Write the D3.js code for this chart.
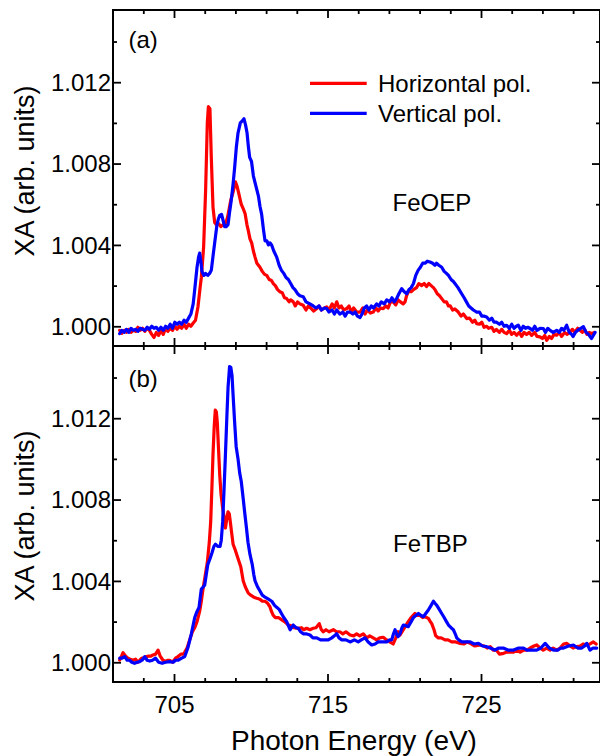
<!DOCTYPE html>
<html><head><meta charset="utf-8">
<script src="https://cdn.jsdelivr.net/npm/d3@7"></script>
<style>
body{margin:0;background:#fff;}
text{font-family:"Liberation Sans",Arial,sans-serif;fill:#000;}
</style></head>
<body><svg id="chart" width="600" height="756"></svg>
<script>
// ---------- data ----------
const xMajorTicks = [705, 715, 725];
const xMinorTicks = [703, 707, 709, 711, 713, 717, 719, 721, 723, 727, 729, 731];
const yMajorTicks = [1.000, 1.004, 1.008, 1.012];
const yMinorTicks = [1.002, 1.006, 1.010, 1.014];
const seriesNames = ["Horizontal pol.", "Vertical pol."];
const panelLabels = ["(a)", "(b)"];
const sampleNames = ["FeOEP", "FeTBP"];

const feoepHorizontal = [[701.46,0.9998],[701.6,0.99965],[701.75,0.9998],[701.9,0.9997],[702.05,0.99985],[702.2,0.9997],[702.35,0.9998],[702.5,0.99975],[702.65,0.99995],[702.8,0.9998],[702.95,0.9999],[703.1,0.99975],[703.25,0.9999],[703.4,0.9998],[703.55,0.9996],[703.7,0.99945],[703.85,0.9997],[704.0,0.99955],[704.15,0.9998],[704.3,0.9996],[704.45,0.9999],[704.6,0.99975],[704.75,0.9999],[704.9,0.9998],[705.05,1.0000],[705.2,0.99985],[705.35,1.0000],[705.5,0.9999],[705.65,1.0001],[705.8,0.9999],[705.95,1.0001],[706.1,1.0000],[706.24,1.00015],[706.4,1.0003],[706.56,1.00095],[706.7,1.0019],[706.78,1.0024],[706.93,1.0039],[707.06,1.0067],[707.17,1.0100],[707.24,1.0108],[707.34,1.0107],[707.43,1.0083],[707.54,1.00586],[707.65,1.0051],[707.75,1.0050],[707.9,1.00505],[708.05,1.0049],[708.2,1.0050],[708.35,1.0050],[708.5,1.0054],[708.7,1.0062],[708.85,1.0066],[709.0,1.0071],[709.1,1.0069],[709.2,1.0066],[709.38,1.0060],[709.5,1.0058],[709.63,1.00554],[709.75,1.0050],[709.84,1.0047],[709.95,1.0043],[710.06,1.0041],[710.17,1.0037],[710.28,1.0034],[710.4,1.0031],[710.5,1.0030],[710.6,1.0029],[710.75,1.0027],[710.9,1.00255],[711.04,1.0025],[711.2,1.0023],[711.35,1.00225],[711.47,1.0021],[711.6,1.0020],[711.75,1.0018],[711.9,1.0017],[712.05,1.00165],[712.2,1.0014],[712.34,1.00136],[712.5,1.0012],[712.6,1.0013],[712.77,1.0012],[712.9,1.0010],[713.05,1.0012],[713.2,1.0011],[713.42,1.00103],[713.6,1.0008],[713.75,1.0010],[713.9,1.0009],[714.1,1.00075],[714.3,1.00087],[714.45,1.0010],[714.6,1.0008],[714.8,1.0009],[714.95,1.00095],[715.1,1.0008],[715.3,1.0011],[715.45,1.0009],[715.6,1.0012],[715.75,1.0009],[715.9,1.0010],[716.05,1.0008],[716.25,1.00087],[716.4,1.0010],[716.55,1.0007],[716.7,1.0009],[716.9,1.0007],[717.12,1.0007],[717.3,1.0009],[717.45,1.0006],[717.6,1.0008],[717.8,1.00065],[717.98,1.0007],[718.15,1.0009],[718.3,1.00075],[718.45,1.0009],[718.63,1.00087],[718.8,1.0010],[718.95,1.0009],[719.1,1.0012],[719.28,1.0012],[719.45,1.00105],[719.6,1.0013],[719.75,1.0012],[719.93,1.0011],[720.05,1.0012],[720.15,1.0015],[720.26,1.0017],[720.45,1.0017],[720.6,1.0018],[720.8,1.0019],[720.95,1.0021],[721.14,1.0020],[721.3,1.0021],[721.45,1.00195],[721.6,1.0021],[721.75,1.0020],[721.9,1.0019],[722.0,1.0018],[722.15,1.0016],[722.3,1.0015],[722.44,1.00136],[722.6,1.0012],[722.75,1.0012],[722.88,1.0010],[723.0,1.0010],[723.15,1.0008],[723.3,1.00085],[723.52,1.0007],[723.7,1.0005],[723.85,1.0006],[724.07,1.00038],[724.25,1.0004],[724.45,1.0002],[724.6,1.0003],[724.72,1.00013],[724.9,1.0001],[725.05,1.0002],[725.2,0.99995],[725.37,1.0000],[725.5,0.9999],[725.7,0.99995],[725.85,0.99975],[726.0,0.99984],[726.2,0.9997],[726.35,0.99985],[726.5,0.9997],[726.67,0.99964],[726.85,0.9998],[727.0,0.9996],[727.15,0.9997],[727.32,0.99956],[727.5,0.9997],[727.65,0.9995],[727.8,0.9997],[727.97,0.9996],[728.15,0.9997],[728.3,0.99955],[728.5,0.9997],[728.65,0.9995],[728.84,0.99948],[729.0,0.9994],[729.15,0.99955],[729.28,0.99931],[729.45,0.9995],[729.6,0.9994],[729.75,0.9996],[729.93,0.99956],[730.1,0.9997],[730.25,0.9995],[730.45,0.9997],[730.6,0.9996],[730.8,0.9997],[730.95,0.99985],[731.1,0.9997],[731.3,0.9999],[731.45,0.9998],[731.6,0.9997],[731.75,0.99985],[731.9,0.9996],[732.05,0.9997],[732.2,0.99964],[732.4,0.9997]];

const feoepVertical = [[701.46,0.99964],[701.6,0.9998],[701.75,0.9997],[701.9,0.99985],[702.05,0.9997],[702.2,0.9999],[702.35,0.9998],[702.5,0.99985],[702.65,0.99975],[702.8,0.9999],[702.95,0.99985],[703.1,0.9998],[703.25,0.99995],[703.4,0.99985],[703.55,1.0000],[703.7,0.9999],[703.85,0.99995],[704.0,0.9998],[704.15,0.99995],[704.3,0.9998],[704.45,1.0000],[704.6,0.9999],[704.75,1.0001],[704.9,0.9999],[705.05,1.0002],[705.2,1.0001],[705.35,1.0002],[705.5,1.0001],[705.65,1.0003],[705.8,1.0002],[705.95,1.0004],[706.1,1.0006],[706.25,1.0011],[706.35,1.0018],[706.5,1.0029],[706.6,1.0034],[706.67,1.0036],[706.75,1.0032],[706.82,1.0027],[706.95,1.0025],[707.05,1.0026],[707.2,1.0025],[707.32,1.0026],[707.43,1.00275],[707.55,1.0035],[707.65,1.0041],[707.8,1.0050],[707.9,1.0053],[707.98,1.00545],[708.1,1.0055],[708.2,1.0052],[708.3,1.0049],[708.4,1.0049],[708.52,1.0050],[708.62,1.0056],[708.73,1.0062],[708.85,1.0070],[708.95,1.0078],[709.06,1.0088],[709.17,1.0095],[709.32,1.0100],[709.45,1.0101],[709.56,1.0102],[709.66,1.0099],[709.76,1.0095],[709.85,1.0088],[709.93,1.0083],[710.05,1.0081],[710.17,1.0074],[710.3,1.0070],[710.5,1.0064],[710.6,1.0059],[710.71,1.0055],[710.82,1.0048],[710.93,1.0042],[711.05,1.0042],[711.15,1.0040],[711.25,1.0041],[711.36,1.0040],[711.5,1.0037],[711.69,1.0034],[711.85,1.0030],[712.0,1.00275],[712.15,1.0026],[712.3,1.0024],[712.45,1.0023],[712.6,1.0021],[712.75,1.0019],[712.88,1.0018],[713.05,1.0016],[713.2,1.0015],[713.42,1.00145],[713.6,1.0012],[713.85,1.0011],[714.07,1.0010],[714.25,1.0009],[714.45,1.0010],[714.6,1.0008],[714.8,1.0009],[714.95,1.00087],[715.1,1.0007],[715.3,1.0008],[715.45,1.0006],[715.6,1.0008],[715.8,1.0006],[716.0,1.0007],[716.15,1.0005],[716.3,1.0007],[716.47,1.0007],[716.65,1.0006],[716.8,1.0007],[716.95,1.0005],[717.12,1.00043],[717.25,1.0006],[717.4,1.0009],[717.55,1.0010],[717.7,1.0008],[717.85,1.0010],[718.0,1.0009],[718.2,1.0011],[718.35,1.0010],[718.5,1.0012],[718.7,1.0011],[718.86,1.0013],[719.05,1.0012],[719.2,1.0014],[719.35,1.0012],[719.5,1.00136],[719.65,1.0016],[719.83,1.00185],[720.0,1.0017],[720.16,1.0016],[720.3,1.0018],[720.45,1.0019],[720.6,1.0021],[720.75,1.0025],[720.9,1.00275],[721.05,1.0029],[721.2,1.0031],[721.35,1.0031],[721.5,1.0032],[721.68,1.00316],[721.85,1.0031],[722.0,1.0030],[722.1,1.0031],[722.25,1.0030],[722.44,1.0029],[722.6,1.0027],[722.75,1.0026],[722.88,1.0025],[723.05,1.0023],[723.2,1.0022],[723.3,1.0021],[723.5,1.0019],[723.74,1.0016],[723.9,1.0014],[724.05,1.0012],[724.2,1.0010],[724.35,1.0009],[724.5,1.0008],[724.72,1.0007],[724.9,1.0007],[725.05,1.0005],[725.2,1.0005],[725.37,1.00046],[725.55,1.0003],[725.7,1.0004],[725.85,1.0002],[726.0,1.0002],[726.2,1.0001],[726.35,1.0002],[726.5,1.0000],[726.67,1.00005],[726.85,0.9999],[727.0,1.0001],[727.15,0.9999],[727.3,1.0000],[727.43,1.00005],[727.6,0.9998],[727.75,1.0000],[727.9,0.9999],[728.05,0.99995],[728.2,0.99989],[728.35,0.9998],[728.5,1.0000],[728.65,0.9998],[728.85,0.9999],[729.06,0.99989],[729.2,0.9997],[729.35,0.9999],[729.5,0.9998],[729.7,0.9997],[729.93,0.9998],[730.1,0.9997],[730.25,0.9999],[730.4,0.9998],[730.58,1.00005],[730.75,0.9997],[730.9,0.9996],[731.0,0.9995],[731.15,0.9997],[731.3,0.9998],[731.5,0.9999],[731.67,0.99998],[731.85,0.9997],[732.0,0.9996],[732.2,0.9994],[732.43,0.9997]];

const fetbpHorizontal = [[701.46,1.00011],[701.58,1.0003],[701.68,1.00047],[701.85,1.0003],[702.0,1.0002],[702.15,1.00015],[702.33,1.0001],[702.5,1.00015],[702.65,1.0000],[702.77,1.0001],[702.9,1.0002],[703.05,1.0002],[703.2,1.00028],[703.35,1.0003],[703.5,1.0003],[703.63,1.00036],[703.8,1.0004],[703.96,1.0006],[704.1,1.0003],[704.28,1.0001],[704.45,1.00005],[704.6,1.0001],[704.72,1.0001],[704.9,1.0000],[705.1,1.0002],[705.26,1.00028],[705.45,1.0004],[705.6,1.0004],[705.7,1.0005],[705.85,1.0007],[706.02,1.0011],[706.2,1.0015],[706.35,1.0017],[706.5,1.0020],[706.67,1.0025],[706.78,1.0030],[706.89,1.0036],[707.02,1.0042],[707.17,1.0049],[707.3,1.0059],[707.39,1.0069],[707.47,1.0086],[707.54,1.0102],[707.62,1.0116],[707.69,1.0124],[707.76,1.0123],[707.82,1.0118],[707.9,1.0105],[707.98,1.0092],[708.06,1.0083],[708.15,1.0077],[708.25,1.0072],[708.35,1.0066],[708.45,1.0071],[708.52,1.0074],[708.6,1.0073],[708.67,1.0069],[708.75,1.0064],[708.85,1.0058],[709.0,1.0055],[709.17,1.0051],[709.35,1.0047],[709.51,1.0040],[709.65,1.0037],[709.84,1.0034],[710.0,1.0033],[710.2,1.0032],[710.39,1.00315],[710.6,1.0031],[710.75,1.0030],[710.93,1.0030],[711.1,1.0029],[711.25,1.00273],[711.35,1.0025],[711.47,1.0023],[711.6,1.0022],[711.8,1.0022],[712.0,1.0021],[712.2,1.0020],[712.45,1.00183],[712.6,1.0018],[712.8,1.0017],[713.1,1.00167],[713.3,1.0017],[713.45,1.0016],[713.64,1.00167],[713.85,1.0016],[714.07,1.00167],[714.25,1.0017],[714.46,1.0019],[714.6,1.0016],[714.73,1.0015],[714.9,1.0016],[715.1,1.0015],[715.38,1.0016],[715.6,1.0015],[715.8,1.0015],[716.0,1.0014],[716.2,1.0015],[716.47,1.00134],[716.7,1.0013],[716.9,1.0014],[717.1,1.0013],[717.33,1.0014],[717.55,1.0012],[717.75,1.0013],[717.98,1.0012],[718.2,1.0011],[718.4,1.0012],[718.63,1.00123],[718.85,1.0011],[719.05,1.0010],[719.28,1.0009],[719.45,1.0012],[719.6,1.0015],[719.72,1.00134],[719.94,1.0016],[720.1,1.0018],[720.26,1.0020],[720.45,1.0022],[720.7,1.0024],[720.85,1.0023],[721.03,1.0023],[721.2,1.0022],[721.35,1.00224],[721.57,1.00216],[721.7,1.0020],[721.79,1.0019],[721.94,1.0016],[722.05,1.0013],[722.22,1.0012],[722.4,1.0012],[722.66,1.0011],[722.85,1.0011],[723.09,1.0010],[723.35,1.0010],[723.64,1.00093],[723.9,1.0009],[724.1,1.0010],[724.3,1.00093],[724.6,1.0008],[724.94,1.00085],[725.2,1.0008],[725.4,1.0007],[725.6,1.00077],[725.8,1.0006],[726.0,1.0006],[726.2,1.0004],[726.47,1.00044],[726.7,1.0005],[726.9,1.0005],[727.12,1.0005],[727.35,1.0006],[727.55,1.0005],[727.78,1.0006],[727.98,1.0006],[728.2,1.0007],[728.45,1.0008],[728.63,1.00085],[728.85,1.0007],[729.05,1.0006],[729.28,1.0007],[729.5,1.0006],[729.7,1.0007],[729.93,1.0006],[730.15,1.0007],[730.38,1.0009],[730.58,1.00093],[730.8,1.0008],[731.0,1.0007],[731.24,1.00077],[731.45,1.0008],[731.65,1.0009],[731.89,1.00085],[732.1,1.0009],[732.32,1.0010],[732.5,1.0009]];

const fetbpVertical = [[701.46,1.0002],[701.62,1.0002],[701.79,1.00028],[701.95,1.0001],[702.1,1.0001],[702.25,1.0000],[702.43,0.99995],[702.6,1.0000],[702.76,1.00003],[702.92,1.0001],[703.09,1.00028],[703.25,1.0001],[703.42,1.00006],[703.6,1.0001],[703.8,1.0002],[704.0,1.0000],[704.23,0.99995],[704.45,1.0000],[704.72,1.00003],[704.95,1.0000],[705.1,1.0001],[705.26,1.0001],[705.5,1.0002],[705.7,1.00028],[705.9,1.0007],[706.13,1.0014],[706.35,1.0022],[706.5,1.0025],[706.63,1.0027],[706.78,1.0036],[706.9,1.0037],[707.0,1.0038],[707.1,1.0043],[707.2,1.0048],[707.35,1.0051],[707.48,1.0054],[707.6,1.0057],[707.7,1.0058],[707.85,1.0057],[708.0,1.0057],[708.08,1.0060],[708.17,1.0069],[708.26,1.0085],[708.35,1.0102],[708.44,1.0120],[708.52,1.0135],[708.62,1.01454],[708.7,1.0145],[708.78,1.0141],[708.86,1.0130],[708.95,1.0118],[709.05,1.0106],[709.17,1.0100],[709.28,1.0093],[709.38,1.0089],[709.5,1.0081],[709.6,1.0074],[709.72,1.0066],[709.82,1.0059],[709.95,1.0053],[710.1,1.0048],[710.2,1.0043],[710.28,1.0040],[710.45,1.0037],[710.6,1.0035],[710.75,1.0033],[710.93,1.0032],[711.15,1.0031],[711.37,1.0030],[711.55,1.0028],[711.69,1.0027],[711.85,1.0026],[712.0,1.0024],[712.15,1.0022],[712.34,1.0020],[712.45,1.0018],[712.56,1.0016],[712.65,1.0017],[712.77,1.00183],[712.95,1.0017],[713.1,1.00167],[713.25,1.0015],[713.42,1.0014],[713.6,1.0014],[713.86,1.00134],[714.05,1.0012],[714.3,1.0012],[714.55,1.0011],[714.84,1.0011],[715.05,1.0011],[715.28,1.0012],[715.45,1.0013],[715.6,1.0014],[715.75,1.0012],[715.93,1.0011],[716.2,1.0011],[716.47,1.0010],[716.75,1.0011],[717.0,1.0010],[717.2,1.0011],[717.44,1.0012],[717.65,1.0010],[717.88,1.00085],[718.1,1.0009],[718.3,1.0010],[718.55,1.0010],[718.86,1.0010],[719.05,1.0011],[719.18,1.0011],[719.3,1.0014],[719.4,1.0016],[719.5,1.0014],[719.6,1.00126],[719.72,1.0014],[719.85,1.0017],[719.94,1.00183],[720.1,1.0018],[720.26,1.00175],[720.45,1.0020],[720.6,1.0022],[720.75,1.0023],[720.92,1.0024],[721.1,1.0023],[721.25,1.00224],[721.4,1.0024],[721.57,1.00257],[721.75,1.0028],[721.9,1.0030],[722.0,1.0029],[722.12,1.0028],[722.28,1.0026],[722.44,1.0024],[722.6,1.0022],[722.75,1.0020],[722.88,1.00183],[723.05,1.0017],[723.2,1.0016],[723.32,1.0014],[723.42,1.0012],[723.55,1.0011],[723.75,1.0010],[724.0,1.0010],[724.3,1.0010],[724.55,1.0009],[724.83,1.00093],[725.1,1.0008],[725.37,1.00077],[725.6,1.0007],[725.9,1.0006],[726.15,1.0007],[726.45,1.0007],[726.75,1.0006],[727.12,1.0006],[727.45,1.0007],[727.77,1.0007],[728.0,1.0006],[728.3,1.0006],[728.63,1.0006],[728.9,1.0007],[729.18,1.00093],[729.45,1.0007],[729.72,1.0006],[730.0,1.0006],[730.2,1.0007],[730.37,1.0007],[730.7,1.0008],[731.02,1.00085],[731.3,1.0007],[731.56,1.0007],[731.75,1.0008],[731.89,1.00093],[732.1,1.0006],[732.3,1.0007],[732.54,1.0007]];

const xDomain = [701.026, 732.752];
const yDomain = [0.99903, 1.01555];

// ---------- layout ----------
const svg = d3.select("#chart");
const left = 113, right = 600;
const panels = [
  {top: 10, bottom: 346, data: [feoepHorizontal, feoepVertical], label: panelLabels[0], sample: sampleNames[0], legend: true,
   labelY: 48, sampleX: 392.5, sampleY: 210.7, yTitleY: 171},
  {top: 346, bottom: 682, data: [fetbpHorizontal, fetbpVertical], label: panelLabels[1], sample: sampleNames[1], legend: false,
   labelY: 387, sampleX: 393, sampleY: 551.7, yTitleY: 516}
];
const colors = ["#ff0000", "#0000ff"];

const x = d3.scaleLinear().domain(xDomain).range([left, right]);

panels.forEach((p, i) => {
  const y = d3.scaleLinear().domain(yDomain).range([p.bottom, p.top]);
  const g = svg.append("g");

  const line = d3.line().x(d => x(d[0])).y(d => y(d[1]));
  p.data.forEach((s, k) => {
    g.append("path").datum(s).attr("d", line)
      .attr("fill", "none").attr("stroke", colors[k]).attr("stroke-width", 3.2)
      .attr("stroke-linejoin", "round").attr("stroke-linecap", "round");
  });

  const mk = (axisFn, scale, vals, size, pos, isX, labels) => {
    const ax = axisFn(scale).tickValues(vals).tickSize(size).tickSizeOuter(0);
    if (!labels) ax.tickFormat("");
    const a = g.append("g").attr("transform", isX ? `translate(0,${pos})` : `translate(${pos},0)`).call(ax);
    a.select(".domain").remove();
    a.selectAll("line").attr("stroke", "#000").attr("stroke-width", 1.8);
    return a;
  };
  const xb = mk(d3.axisBottom, x, xMajorTicks, -8, p.bottom, true, i === 1);
  if (i === 1) {
    xb.call(a => a.selectAll("text").attr("font-size", 24).attr("dy", "0").attr("y", 31.3));
  }
  mk(d3.axisBottom, x, xMinorTicks, -4, p.bottom, true, false);
  mk(d3.axisTop, x, xMajorTicks, -8, p.top, true, false);
  mk(d3.axisTop, x, xMinorTicks, -4, p.top, true, false);
  const yl = mk(d3.axisLeft, y, yMajorTicks, -8, left, false, true);
  yl.selectAll("text").attr("font-size", 24).attr("x", -2).attr("dy", "0.34em")
    .text(d => d3.format(".3f")(d));
  mk(d3.axisLeft, y, yMinorTicks, -4, left, false, false);
  mk(d3.axisRight, y, yMajorTicks, -8, right, false, false);
  mk(d3.axisRight, y, yMinorTicks, -4, right, false, false);

  g.append("rect").attr("x", left).attr("y", p.top).attr("width", right - left).attr("height", p.bottom - p.top)
    .attr("fill", "none").attr("stroke", "#000").attr("stroke-width", 2);

  g.append("text").attr("x", 128.5).attr("y", p.labelY).attr("font-size", 24).text(p.label);
  g.append("text").attr("x", p.sampleX).attr("y", p.sampleY).attr("font-size", 24).text(p.sample);

  g.append("text").attr("transform", `translate(33.5,${p.yTitleY}) rotate(-90)`)
    .attr("text-anchor", "middle").attr("font-size", 27).text("XA (arb. units)");

  if (p.legend) {
    const ly = [83.3, 113.3];
    seriesNames.forEach((n, k) => {
      g.append("line").attr("x1", 310).attr("x2", 366.7).attr("y1", ly[k]).attr("y2", ly[k])
        .attr("stroke", colors[k]).attr("stroke-width", 3.2);
      g.append("text").attr("x", 378).attr("y", ly[k] + 8.4).attr("font-size", 24).text(n);
    });
  }
});

svg.selectAll(".tick text").attr("font-family", "Liberation Sans, Arial, sans-serif").attr("fill", "#000");
svg.selectAll("g[font-family]").attr("font-family", null);

svg.append("text").attr("x", 354).attr("y", 750).attr("text-anchor", "middle")
  .attr("font-size", 28).text("Photon Energy (eV)");
</script></body></html>
